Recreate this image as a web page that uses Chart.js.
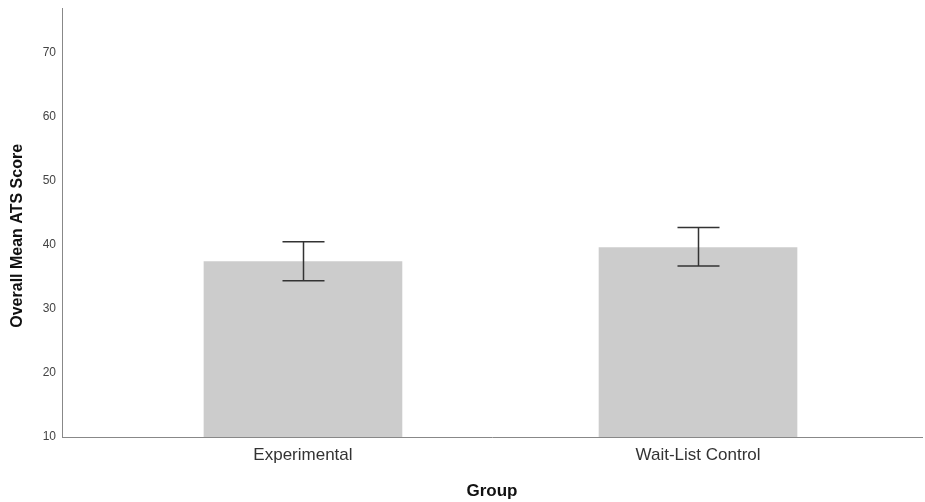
<!DOCTYPE html>
<html>
<head>
<meta charset="utf-8">
<script src="https://cdn.jsdelivr.net/npm/chart.js@4.4.1/dist/chart.umd.min.js"></script>
<style>
  html, body { margin: 0; padding: 0; background: #fff; }
  #wrap { width: 925px; height: 502px; }
</style>
</head>
<body>
<div id="wrap"><canvas id="chart"></canvas></div>
<script>
// categories and values
const groups = ['Experimental', 'Wait-List Control'];
const groupPos = [1, 2];                 // x positions on the linear axis
const meanScore = [37.4, 39.6];
const errLow = [34.4, 36.7];
const errHigh = [40.5, 42.7];
const yTicks = [10, 20, 30, 40, 50, 60, 70];

// draws the whisker + caps for each bar through the chart scales
const errorBars = {
  id: 'errorBars',
  afterDatasetsDraw(chart) {
    const { ctx, scales: { x, y } } = chart;
    ctx.save();
    ctx.strokeStyle = '#333';
    ctx.lineWidth = 1.5;
    groupPos.forEach((p, i) => {
      const cx = Math.round(x.getPixelForValue(p)) + 0.5;
      const top = y.getPixelForValue(errHigh[i]);
      const bot = y.getPixelForValue(errLow[i]);
      ctx.beginPath();
      ctx.moveTo(cx, top); ctx.lineTo(cx, bot);
      ctx.moveTo(cx - 21, top); ctx.lineTo(cx + 21, top);
      ctx.moveTo(cx - 21, bot); ctx.lineTo(cx + 21, bot);
      ctx.stroke();
    });
    ctx.restore();
  }
};

new Chart(document.getElementById('chart'), {
  type: 'bar',
  data: {
    datasets: [{
      data: groupPos.map((p, i) => ({ x: p, y: meanScore[i] })),
      backgroundColor: '#cccccc',
      borderWidth: 0,
      barThickness: 198
    }]
  },
  options: {
    responsive: true,
    maintainAspectRatio: false,
    animation: false,
    events: [],
    layout: { padding: { top: 8, right: 3, left: 0, bottom: 0 } },
    plugins: { legend: { display: false }, tooltip: { enabled: false } },
    scales: {
      x: {
        type: 'linear',
        offset: false,
        min: 0.39,
        max: 2.567,
        afterBuildTicks: (s) => { s.ticks = groupPos.map(v => ({ value: v })); },
        afterFit: (s) => { s.height = 65; },
        grid: { display: false, drawTicks: false },
        border: { display: true, color: '#888', width: 1 },
        ticks: {
          padding: 8,
          color: '#333',
          maxRotation: 0,
          font: { family: 'Liberation Sans, Arial', size: 17 },
          callback: (v) => groups[groupPos.indexOf(v)] ?? ''
        },
        title: {
          display: true,
          text: 'Group',
          color: '#111',
          font: { family: 'Liberation Sans, Arial', size: 17, weight: 'bold' },
          padding: { top: 0, bottom: 0 }
        }
      },
      y: {
        min: 10,
        max: 77,
        afterBuildTicks: (s) => { s.ticks = yTicks.map(v => ({ value: v })); },
        afterFit: (s) => { s.width = 62; s.paddingTop = 0; },
        grid: { display: false, drawTicks: false },
        border: { display: true, color: '#888', width: 1 },
        ticks: {
          padding: 6,
          color: '#444',
          font: { family: 'Liberation Sans, Arial', size: 12 }
        },
        title: {
          display: true,
          text: 'Overall Mean ATS Score      ',
          color: '#111',
          font: { family: 'Liberation Sans, Arial', size: 16, weight: 'bold' },
          padding: { top: 8, bottom: 0 }
        }
      }
    }
  },
  plugins: [errorBars]
});
</script>
</body>
</html>
